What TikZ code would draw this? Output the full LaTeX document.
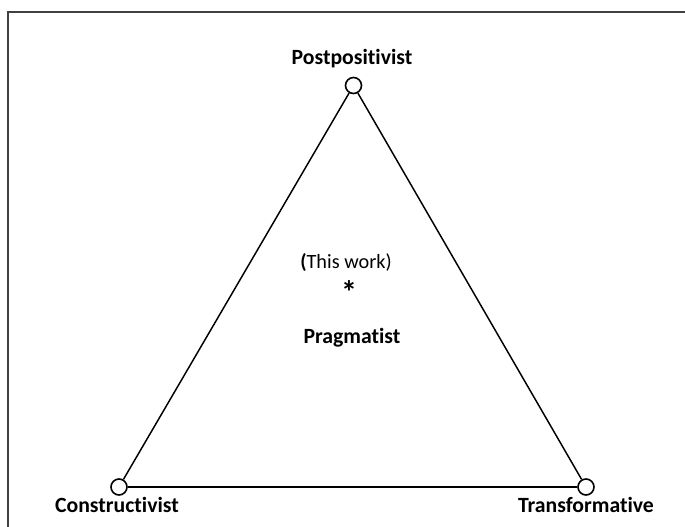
\documentclass[tikz,border=0pt]{standalone}
\usepackage{fontspec}
\setmainfont{Carlito}[Ligatures={NoCommon}]
\begin{document}
\begin{tikzpicture}
	[	x=0.75pt,y=-0.75pt,
	vertex/.style={circle,draw=black,fill=white,line width=1.2pt,inner sep=0pt,minimum size=12pt},
	plain/.style={draw=none,fill=none,font=\fontsize{16.3}{18}\selectfont\bfseries,anchor=base,inner sep=0pt},
	edge/.style={draw=black,line width=1.1pt}
	]
	\useasboundingbox (0,0) rectangle (685,527);
	\draw[line width=0.9pt,black!75] (8,527) -- (8,12) -- (685,12);

	\node[vertex] (post) at (353.5,85.5){};
	\node[vertex] (cons) at (119,487){};
	\node[vertex] (trans) at (586,487){};

	\draw[edge] (post) -- (cons);
	\draw[edge] (cons) -- (trans);
	\draw[edge] (trans) -- (post);

\node[plain] (postlbl) at (352,65){Postpositivist};
\node[plain] (conslbl) at (117,512){Constructivist};
\node[plain] (translbl) at (586,512){Transformative};
\node[plain,font=\fontsize{15.2}{18}\selectfont] (work) at (346,269){\textbf{(}This work)};
\node[plain,font=\fontsize{24}{24}\selectfont\bfseries] (star) at (349,303){*};
\node[plain] (prag) at (352,343){Pragmatist};
\end{tikzpicture}
\end{document}
